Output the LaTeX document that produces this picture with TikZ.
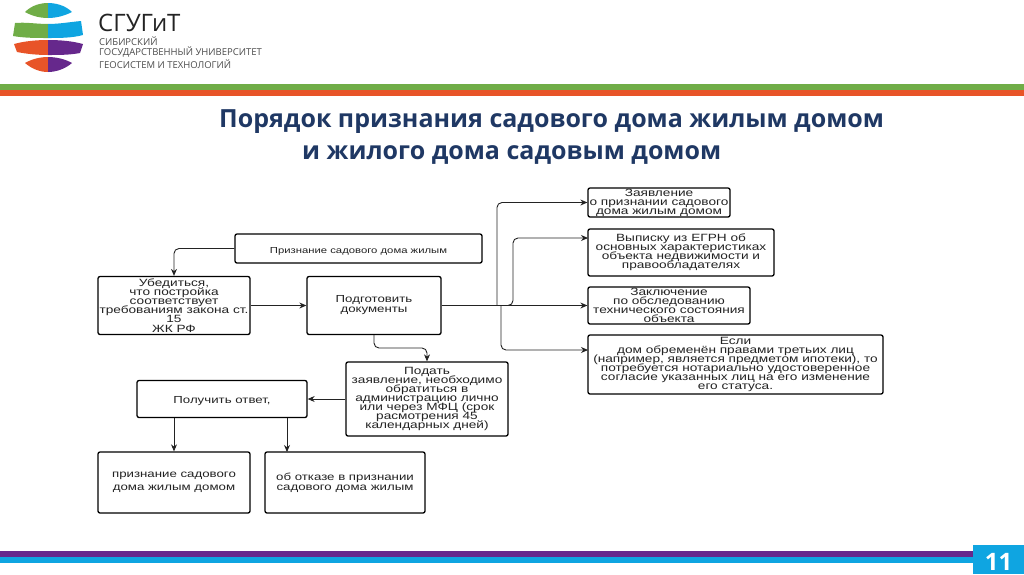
\documentclass[tikz,border=0pt]{standalone}
\usepackage{fontspec}
\setmainfont{Liberation Sans}
\newfontfamily\boxfont[FakeStretch=1.3]{Liberation Sans}
\newfontfamily\titlefont{Open Sans}
\newfontfamily\logofont{Open Sans}
\setlength{\lineskiplimit}{-20pt}
\definecolor{BandGreen}{RGB}{112,173,71}
\definecolor{BandOrange}{RGB}{232,84,40}
\definecolor{BandPurple}{RGB}{102,40,140}
\definecolor{BandBlue}{RGB}{15,165,225}
\definecolor{TitleNavy}{RGB}{31,56,100}
\definecolor{LogoGray}{RGB}{75,75,75}
\definecolor{InkDark}{RGB}{35,35,35}
\usetikzlibrary{arrows.meta, positioning}
\tikzset{
  docbox/.style={draw=black, line width=1.3pt, rounded corners=2pt, fill=white, inner sep=0pt,
    align=center, text=InkDark, font=\boxfont\fontsize{10.5}{9.1}\selectfont,
    execute at begin node={\rule{0pt}{10.5pt}}},
  widebox/.style={docbox, font=\boxfont\fontsize{10.2}{10}\selectfont,
    execute at begin node={\rule{0pt}{11.5pt}}},
  link/.style={-{Stealth[length=7pt,width=6pt]}, InkDark, line width=0.9pt, rounded corners=5pt},
  logoline/.style={anchor=west, inner sep=0pt, text=LogoGray, font=\logofont\fontsize{9.5}{10}\selectfont},
  titleline/.style={anchor=base west, inner sep=0pt, text=TitleNavy, font=\titlefont\bfseries\fontsize{25}{28}\selectfont}
}
\begin{document}
\begin{tikzpicture}[x=1pt,y=-1pt]
  \useasboundingbox (0,0) rectangle (1024,574);

  % logo
  \fill[BandGreen] (25,12) .. controls (32,5) and (41,3) .. (48,3) -- (48,18) .. controls (40,18) and (32,16) .. (25,12) -- cycle;
  \fill[BandBlue] (72,12) .. controls (65,5) and (55,3) .. (48,3) -- (48,18) .. controls (56,18) and (64,16) .. (72,12) -- cycle;
  \fill[BandGreen] (15,23) .. controls (26,22) and (37,24) .. (48,24) -- (48,38) .. controls (36,38) and (24,38) .. (13,36) -- cycle;
  \fill[BandBlue] (81,21) .. controls (70,22) and (59,24) .. (48,24) -- (48,38) .. controls (60,38) and (72,38) .. (83,35) -- cycle;
  \fill[BandOrange] (14,44) .. controls (25,41) and (37,40) .. (48,40) -- (48,55) .. controls (38,55) and (27,54) .. (17,52) -- cycle;
  \fill[BandPurple] (83,44) .. controls (72,41) and (60,40) .. (48,40) -- (48,55) .. controls (58,55) and (70,55) .. (80,53) -- cycle;
  \fill[BandOrange] (25,63) .. controls (32,59) and (40,57) .. (48,57) -- (48,72) .. controls (40,72) and (32,69) .. (25,63) -- cycle;
  \fill[BandPurple] (72,63) .. controls (65,59) and (56,57) .. (48,57) -- (48,72) .. controls (56,72) and (65,69) .. (72,63) -- cycle;

  \node[logoline, text=InkDark, font=\logofont\fontsize{24}{26}\selectfont] (brand) at (98,23) {СГУГиТ};
  \node[logoline] (logoa) at (99,41) {СИБИРСКИЙ};
  \node[logoline] (logob) at (99,52.5) {ГОСУДАРСТВЕННЫЙ УНИВЕРСИТЕТ};
  \node[logoline] (logoc) at (99,64.5) {ГЕОСИСТЕМ И ТЕХНОЛОГИЙ};

  % bands
  \foreach \ya/\yb/\col in {84/90/BandGreen, 90/96/BandOrange, 551/557/BandPurple, 557/563/BandBlue}
    \fill[\col] (0,\ya) rectangle (1024,\yb);
  \node[fill=BandBlue, minimum width=51pt, minimum height=29pt, inner sep=0pt, text height=21pt, text=white, font=\titlefont\bfseries\fontsize{24}{24}\selectfont] (pagenum) at (998.5,559.5) {11};

  \node[titleline] (titlea) at (219,127) {Порядок признания садового дома жилым домом};
  \node[titleline] (titleb) at (302,159) {и жилого дома садовым домом};

  % left part
  \node[widebox, font=\boxfont\fontsize{8.7}{9}\selectfont, minimum width=247pt, minimum height=29pt] (start) at (358.5,248.5) {Признание садового дома жилым};
  \node[docbox, minimum width=152pt, minimum height=58pt] (check) at (174,305.5) {Убедиться,\\что постройка\\соответствует\\требованиям закона ст.\\15\\ЖК РФ};
  \node[widebox, minimum width=134pt, minimum height=58pt] (prep) at (374,305.5) {Подготовить\\документы};
  \node[docbox, minimum width=162pt, minimum height=74pt] (submit) at (427,399) {Подать\\заявление, необходимо\\обратиться в\\администрацию лично\\или через МФЦ (срок\\расмотрения 45\\календарных дней)};
  \node[widebox, minimum width=170pt, minimum height=37pt] (answer) at (222,399) {Получить ответ,};
  \node[widebox, font=\boxfont\fontsize{10.2}{12.5}\selectfont, minimum width=152pt, minimum height=61pt] (yes) at (174,482.5) {признание садового\\дома жилым домом};
  \node[widebox, minimum width=160pt, minimum height=61pt] (no) at (345,482.5) {об отказе в признании\\садового дома жилым};

  % right part
  \node[docbox, minimum width=142pt, minimum height=29pt] (appl) at (659,202.5) {Заявление\\о признании садового\\дома жилым домом};
  \node[docbox, minimum width=186pt, minimum height=47pt] (facts) at (681,252.5) {Выписку из ЕГРН об\\основных характеристиках\\объекта недвижимости и\\правообладателях};
  \node[docbox, minimum width=162pt, minimum height=37pt] (report) at (669,305.5) {Заключение\\по обследованию\\технического состояния\\объекта};
  \node[docbox, minimum width=295pt, minimum height=59pt] (consent) at (735.5,364.5) {Если\\дом обременён правами третьих лиц\\(например, является предметом ипотеки), то\\потребуется нотариально удостоверенное\\согласие указанных лиц на его изменение\\его статуса.};

  \coordinate (forka) at (497,305.5);
  \coordinate (forkb) at (513,305.5);
  \coordinate (forkc) at (501,305.5);
  \coordinate (factsin) at (588,238);
  \coordinate (consentin) at (588,350);
  \coordinate (prepdrop) at (374,348);
  \coordinate (noin) at (287,452);

  \draw[link] (start.west) -| (check.north);
  \draw[link] (check.east) -- (prep.west);
  \draw[link] (prep.east) -- (report.west);
  \draw[link] (forka) |- (appl.west);
  \draw[link] (forka) -- (forkb) |- (factsin);
  \draw[link] (forkc) |- (consentin);
  \draw[link] (prep.south) -- (prepdrop) -| (submit.north);
  \draw[link] (submit.west) -- (answer.east);
  \draw[link] (answer.south -| yes.north) -- (yes.north);
  \draw[link] (answer.south -| noin) -- (noin);
\end{tikzpicture}
\end{document}
